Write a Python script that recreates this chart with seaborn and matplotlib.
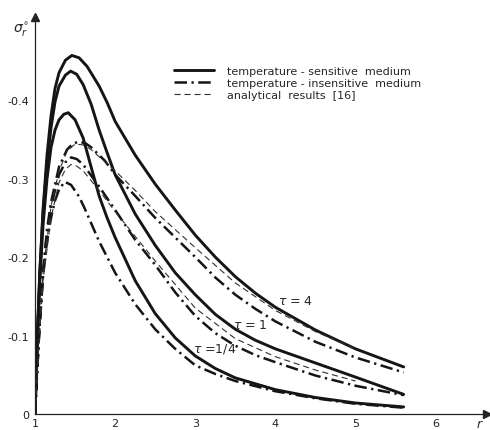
import numpy as np
import pandas as pd
import matplotlib
matplotlib.use("Agg")
import matplotlib.pyplot as plt
from matplotlib.lines import Line2D
import seaborn as sns

# radial coordinate r and |sigma_r*|
r_s4 = [1.0, 1.03, 1.06, 1.1, 1.15, 1.2, 1.25, 1.3, 1.38, 1.46, 1.55, 1.65, 1.8, 1.9, 2.0, 2.25, 2.5, 2.75, 3.0, 3.25, 3.5, 3.75, 4.0, 4.5, 5.0, 5.6]
sens_tau4 = [0.0, 0.1, 0.18, 0.26, 0.33, 0.38, 0.415, 0.435, 0.451, 0.457, 0.454, 0.443, 0.418, 0.397, 0.373, 0.33, 0.293, 0.26, 0.228, 0.2, 0.175, 0.154, 0.136, 0.107, 0.083, 0.06]

r_s1 = [1.0, 1.03, 1.06, 1.1, 1.15, 1.2, 1.25, 1.3, 1.38, 1.445, 1.52, 1.6, 1.7, 1.8, 1.9, 2.0, 2.25, 2.5, 2.75, 3.0, 3.25, 3.5, 3.75, 4.0, 4.5, 5.0, 5.6]
sens_tau1 = [0.0, 0.1, 0.18, 0.255, 0.32, 0.365, 0.398, 0.418, 0.432, 0.437, 0.433, 0.42, 0.395, 0.362, 0.333, 0.305, 0.255, 0.215, 0.18, 0.152, 0.127, 0.108, 0.094, 0.083, 0.065, 0.047, 0.025]

r_s14 = [1.0, 1.03, 1.06, 1.1, 1.15, 1.2, 1.25, 1.3, 1.36, 1.415, 1.5, 1.6, 1.7, 1.8, 1.9, 2.0, 2.25, 2.5, 2.75, 3.0, 3.25, 3.5, 4.0, 4.5, 5.0, 5.6]
sens_tau14 = [0.0, 0.095, 0.17, 0.24, 0.3, 0.34, 0.362, 0.375, 0.382, 0.384, 0.375, 0.352, 0.315, 0.278, 0.25, 0.225, 0.17, 0.128, 0.097, 0.074, 0.058, 0.046, 0.031, 0.021, 0.014, 0.009]

r_i4 = [1.0, 1.05, 1.1, 1.15, 1.2, 1.3, 1.4, 1.48, 1.55, 1.63, 1.7, 1.87, 2.0, 2.25, 2.5, 2.75, 3.0, 3.25, 3.5, 3.75, 4.0, 4.5, 5.0, 5.6]
insens_tau4 = [0.0, 0.1, 0.18, 0.235, 0.27, 0.315, 0.337, 0.345, 0.347, 0.345, 0.34, 0.323, 0.305, 0.278, 0.25, 0.225, 0.2, 0.174, 0.152, 0.134, 0.118, 0.092, 0.072, 0.053]

r_i1 = [1.0, 1.05, 1.1, 1.15, 1.2, 1.3, 1.38, 1.45, 1.52, 1.6, 1.8, 2.0, 2.25, 2.5, 2.75, 3.0, 3.25, 3.5, 3.75, 4.0, 4.5, 5.0, 5.6]
insens_tau1 = [0.0, 0.1, 0.18, 0.23, 0.265, 0.305, 0.321, 0.327, 0.325, 0.318, 0.29, 0.26, 0.222, 0.19, 0.155, 0.125, 0.103, 0.087, 0.075, 0.066, 0.049, 0.036, 0.024]

r_i14 = [1.0, 1.05, 1.1, 1.15, 1.2, 1.25, 1.3, 1.37, 1.45, 1.55, 1.62, 1.8, 2.0, 2.25, 2.5, 2.75, 3.0, 3.25, 3.5, 4.0, 4.5, 5.0, 5.6]
insens_tau14 = [0.0, 0.1, 0.175, 0.22, 0.25, 0.272, 0.286, 0.296, 0.292, 0.277, 0.262, 0.22, 0.18, 0.14, 0.108, 0.083, 0.062, 0.051, 0.042, 0.029, 0.02, 0.013, 0.008]

r_a4 = [1.0, 1.05, 1.1, 1.2, 1.3, 1.4, 1.5, 1.6, 1.7, 1.8, 2.0, 2.25, 2.5, 2.75, 3.0, 3.5, 4.0, 4.5, 5.0]
analytic_tau4 = [0.0, 0.1, 0.18, 0.265, 0.31, 0.335, 0.344, 0.343, 0.337, 0.328, 0.31, 0.285, 0.258, 0.235, 0.212, 0.167, 0.132, 0.105, 0.083]

r_a1 = [1.0, 1.05, 1.1, 1.2, 1.3, 1.38, 1.45, 1.52, 1.6, 1.8, 2.0, 2.5, 3.0, 3.5, 4.0, 4.5, 5.0]
analytic_tau1 = [0.0, 0.09, 0.17, 0.25, 0.295, 0.312, 0.318, 0.316, 0.31, 0.285, 0.258, 0.195, 0.135, 0.096, 0.073, 0.056, 0.042]

xtick_vals = [1, 2, 3, 4, 5, 6]
ytick_vals = [0.0, 0.1, 0.2, 0.3, 0.4]
ytick_labels = ["0", "-0.1", "-0.2", "-0.3", "-0.4"]

sns.set_style("white")
plt.rcParams["font.family"] = ["DejaVu Sans"]

fig = plt.figure(figsize=(4.9, 4.31), dpi=100)
ax = fig.add_axes([35 / 490, 16 / 431, 452 / 490, 397 / 431])

solid = dict(color="#151515", lw=2.1, linestyle="-", solid_capstyle="round")
dashdot = dict(color="#151515", lw=1.8, linestyle=(0, (5, 1.8, 0.9, 1.8)))
dashed = dict(color="#303030", lw=0.8, linestyle=(0, (5.5, 3.5)))

for rr, vv in [(r_s4, sens_tau4), (r_s1, sens_tau1), (r_s14, sens_tau14)]:
    sns.lineplot(x=rr, y=vv, ax=ax, sort=False, estimator=None, **solid)
for rr, vv in [(r_i4, insens_tau4), (r_i1, insens_tau1), (r_i14, insens_tau14)]:
    sns.lineplot(x=rr, y=vv, ax=ax, sort=False, estimator=None, **dashdot)
for rr, vv in [(r_a4, analytic_tau4), (r_a1, analytic_tau1)]:
    sns.lineplot(x=rr, y=vv, ax=ax, sort=False, estimator=None, **dashed)

ax.set_xlim(1.0, 6.64)
ax.set_ylim(0, 0.506)
ax.set_xticks(xtick_vals)
ax.set_yticks(ytick_vals)
ax.set_yticklabels(ytick_labels)
ax.tick_params(axis="both", direction="inout", length=4, width=0.8, labelsize=8, pad=2, colors="#222222")
ax.tick_params(axis="x", pad=1)
for side in ["top", "right"]:
    ax.spines[side].set_visible(False)
for side in ["left", "bottom"]:
    ax.spines[side].set_color("#222222")
    ax.spines[side].set_linewidth(0.9)

# arrow heads on axes
ax.plot(1, 0, ">", color="#222222", markersize=6, transform=ax.transAxes, clip_on=False)
ax.plot(0, 1, "^", color="#222222", markersize=6, transform=ax.transAxes, clip_on=False)

ax.text(0.982, -0.008, "r", transform=ax.transAxes, fontsize=9, style="italic", ha="center", va="top")
fig.text(13 / 490, 1 - 30 / 431, r"$\sigma_r^{\circ}$", fontsize=10, ha="left", va="center")

ax.text(4.03, 0.14, r"$\tau$ = 4", fontsize=9)
ax.text(3.47, 0.11, r"$\tau$ = 1", fontsize=9)
ax.text(2.97, 0.08, r"$\tau$ =1/4", fontsize=9)

handles = [
    Line2D([], [], **solid),
    Line2D([], [], **dashdot),
    Line2D([], [], **dashed),
]
labels = ["temperature - sensitive  medium", "temperature - insensitive  medium", "analytical  results  [16]"]
fig.legend(handles, labels, loc="upper left", bbox_to_anchor=(168 / 490, 1 - 61 / 431),
           frameon=False, fontsize=8, handlelength=3.6, handletextpad=1.2, labelspacing=0.18, borderpad=0)

fig.savefig("out.png", dpi=100)
